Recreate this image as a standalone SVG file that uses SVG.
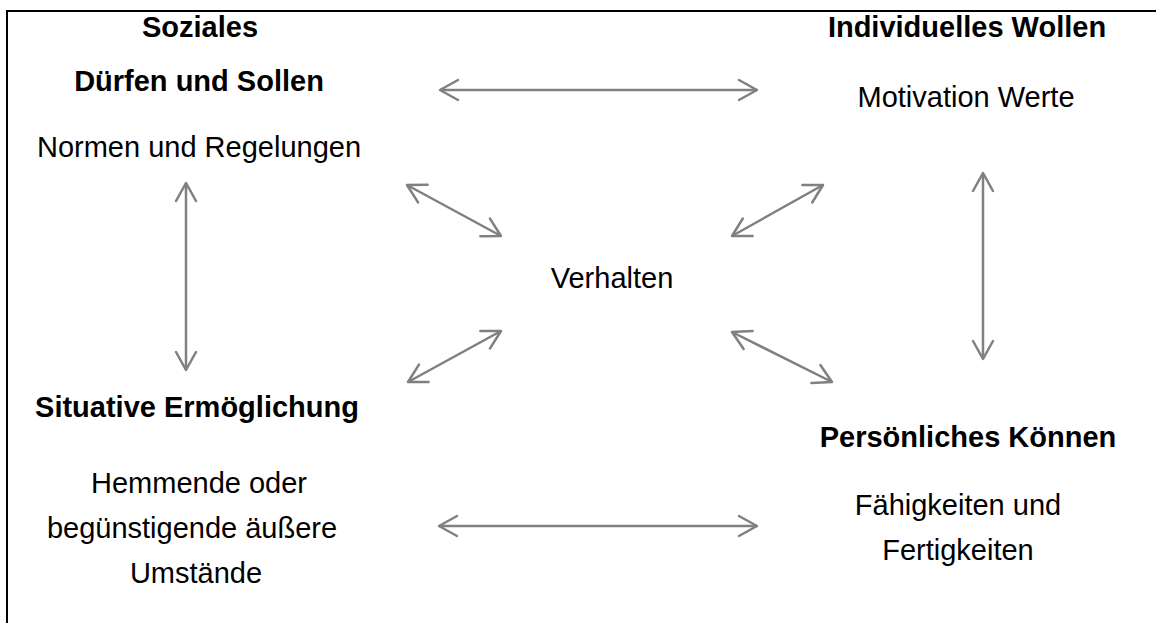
<svg xmlns="http://www.w3.org/2000/svg" width="1156" height="623" viewBox="0 0 1156 623">
<style>
text{font-family:"Liberation Sans",Arial,sans-serif;font-size:29px;fill:#000;text-anchor:middle}
.b{font-weight:bold}
.c{stroke:#808080;stroke-width:2.5;fill:none}
.frame{stroke:#000;stroke-width:2;fill:none}
</style>
<defs>
<marker id="ah" markerUnits="userSpaceOnUse" markerWidth="26" markerHeight="26" viewBox="-22 -13 26 26" refX="0" refY="0" orient="auto-start-reverse">
<path d="M-18,-10 L0,0 L-18,10" fill="none" stroke="#808080" stroke-width="2.5" stroke-linecap="round" stroke-linejoin="round"/>
</marker>
</defs>
<rect width="1156" height="623" fill="#fff"/>
<path class="frame" d="M7,623 V11 H1156"/>
<g id="soziales">
<text class="b" x="200" y="37">Soziales</text>
<text class="b" x="199" y="91">Dürfen und Sollen</text>
<text x="199" y="157">Normen und Regelungen</text>
</g>
<g id="wollen">
<text class="b" x="967" y="37">Individuelles Wollen</text>
<text x="966" y="107">Motivation Werte</text>
</g>
<g id="verhalten">
<text x="612" y="288">Verhalten</text>
</g>
<g id="situative">
<text class="b" x="197" y="417">Situative Ermöglichung</text>
<text x="199" y="493">Hemmende oder</text>
<text x="192" y="538">begünstigende äußere</text>
<text x="196" y="583">Umstände</text>
</g>
<g id="koennen">
<text class="b" x="968" y="447">Persönliches Können</text>
<text x="958" y="515">Fähigkeiten und</text>
<text x="958" y="560">Fertigkeiten</text>
</g>
<g id="connectors" class="c">
<line x1="440" y1="90" x2="757" y2="90" marker-start="url(#ah)" marker-end="url(#ah)"/>
<line x1="439" y1="526" x2="757" y2="526" marker-start="url(#ah)" marker-end="url(#ah)"/>
<line x1="186" y1="183" x2="186" y2="370" marker-start="url(#ah)" marker-end="url(#ah)"/>
<line x1="983" y1="173" x2="983" y2="359" marker-start="url(#ah)" marker-end="url(#ah)"/>
<line x1="407" y1="185" x2="501" y2="236" marker-start="url(#ah)" marker-end="url(#ah)"/>
<line x1="823" y1="185" x2="732" y2="236" marker-start="url(#ah)" marker-end="url(#ah)"/>
<line x1="501" y1="331" x2="408" y2="382" marker-start="url(#ah)" marker-end="url(#ah)"/>
<line x1="732" y1="332" x2="832" y2="382" marker-start="url(#ah)" marker-end="url(#ah)"/>
</g>
</svg>
